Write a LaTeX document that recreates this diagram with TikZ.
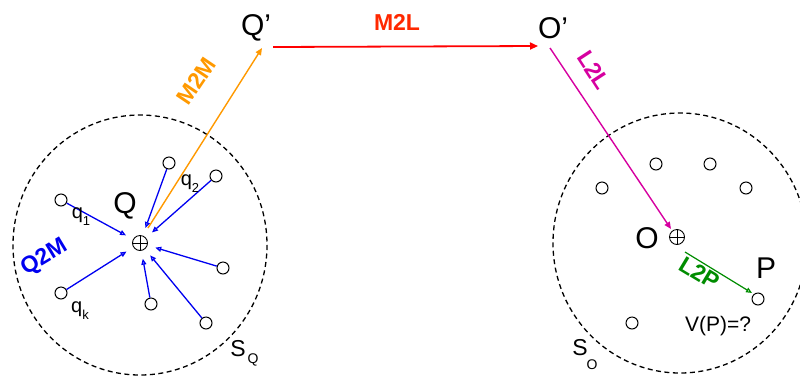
\documentclass[tikz,border=0pt]{standalone}
\usepackage{fontspec}
\setmainfont{Liberation Sans}
\usetikzlibrary{arrows.meta}
\definecolor{cblue}{RGB}{0,0,240}
\definecolor{corange}{RGB}{255,153,0}
\definecolor{cred}{RGB}{255,0,0}
\definecolor{cmred}{RGB}{255,40,0}
\definecolor{cmag}{RGB}{214,0,160}
\definecolor{cgreen}{RGB}{0,140,0}
\newcommand{\mysub}[1]{\raisebox{-0.35em}{\fontsize{13}{13}\selectfont #1}}
\begin{document}
\begin{tikzpicture}[x=1pt,y=-1pt,
  part/.style={circle,draw,line width=1pt,minimum size=12pt,inner sep=0pt},
  expc/.style={circle,draw,line width=0.9pt,minimum size=15pt,inner sep=0pt,
    path picture={\draw[line width=0.9pt] (path picture bounding box.north) -- (path picture bounding box.south)
      (path picture bounding box.west) -- (path picture bounding box.east);}},
  big/.style={font=\fontsize{30}{30}\selectfont,inner sep=0pt},
  mid/.style={font=\fontsize{20}{20}\selectfont,inner sep=0pt},
  lab/.style={font=\fontsize{23}{23}\selectfont\bfseries,inner sep=0pt},
  sphere/.style={draw,line width=1.3pt,dash pattern=on 5pt off 3.5pt},
  q2m/.style={draw=cblue,line width=1.3pt,-{Triangle[open,length=6pt,width=5pt]},shorten >=8pt},
  l2p/.style={draw=cgreen,line width=1.2pt,-{Triangle[open,length=6pt,width=5pt]}},
  m2m/.style={draw=corange,line width=1.4pt,-{Triangle[length=7pt,width=6pt]}},
  m2l/.style={draw=cred,line width=1.8pt,-{Triangle[length=8pt,width=7pt]}},
  l2l/.style={draw=cmag,line width=1.4pt,-{Triangle[length=7pt,width=6pt]}}]
\useasboundingbox (0,0) rectangle (800,376);
\clip (0,0) rectangle (800,376);

% spheres
\draw[sphere] (140,245) ellipse [x radius=127, y radius=130];
\draw[sphere] (680,243) ellipse [x radius=127, y radius=130];

% left cluster
\node[expc] (Q) at (140,243) {};
\node[part] (c1) at (61,200) {};
\node[part] (c2) at (216,176) {};
\node[part] (c3) at (169,163) {};
\node[part] (c4) at (223,268) {};
\node[part] (c5) at (151,304) {};
\node[part] (c6) at (206,323) {};
\node[part] (ck) at (61,293) {};
\foreach \c in {c1,c2,c3,c4,c5,c6,ck} \draw[q2m] (\c) -- (Q);

\node[big] (Qlab) at (125,206) {Q};
\node[mid] (q1) at (81,217) {q\mysub{1}};
\node[mid] (q2) at (190,184) {q\mysub{2}};
\node[mid] (qk) at (80,311) {q\mysub{k}};
\node[lab,text=cblue,rotate=31] (Q2M) at (45,258) {Q2M};
\node[font=\fontsize{23}{23}\selectfont,inner sep=0pt] (SQ) at (238,349) {S};
\node[font=\fontsize{14}{14}\selectfont,inner sep=0pt] (SQs) at (253,360) {Q};

% top
\node[big] (Qp) at (256,28) {Q’};
\node[big] (Op) at (553,28) {O’};
\coordinate (m2ma) at (148,228);
\coordinate (m2mb) at (262,48);
\draw[m2m] (m2ma) -- (m2mb);
\node[lab,text=corange,rotate=56] (M2M) at (196,81) {M2M};
\coordinate (m2la) at (273,47);
\coordinate (m2lb) at (538,46);
\draw[m2l] (m2la) -- (m2lb);
\node[lab,text=cmred] (M2L) at (397,22) {M2L};
\coordinate (l2la) at (550,48);
\node[lab,text=cmag,rotate=-57] (L2L) at (594,70) {L2L};

% right cluster
\node[expc] (O) at (677,237) {};
\coordinate (l2lb) at (671,229);
\draw[l2l] (l2la) -- (l2lb);
\node[big] (Olab) at (647,238) {O};
\node[part] (d1) at (602,188) {};
\node[part] (d2) at (656,164) {};
\node[part] (d3) at (710,164) {};
\node[part] (d4) at (746,188) {};
\node[part] (d5) at (632,323) {};
\node[part] (P) at (758,299) {};
\node[big] (Plab) at (766,268) {P};
\coordinate (l2pa) at (685,252);
\coordinate (l2pb) at (752,293);
\draw[l2p] (l2pa) -- (l2pb);
\node[lab,text=cgreen,rotate=-31] (L2P) at (700,273) {L2P};
\node[font=\fontsize{21}{21}\selectfont,inner sep=0pt] (VP) at (718,326) {V(P)=?};
\node[font=\fontsize{23}{23}\selectfont,inner sep=0pt] (SO) at (580,348) {S};
\node[font=\fontsize{14}{14}\selectfont,inner sep=0pt] (SOs) at (592,365) {O};
\end{tikzpicture}
\end{document}
